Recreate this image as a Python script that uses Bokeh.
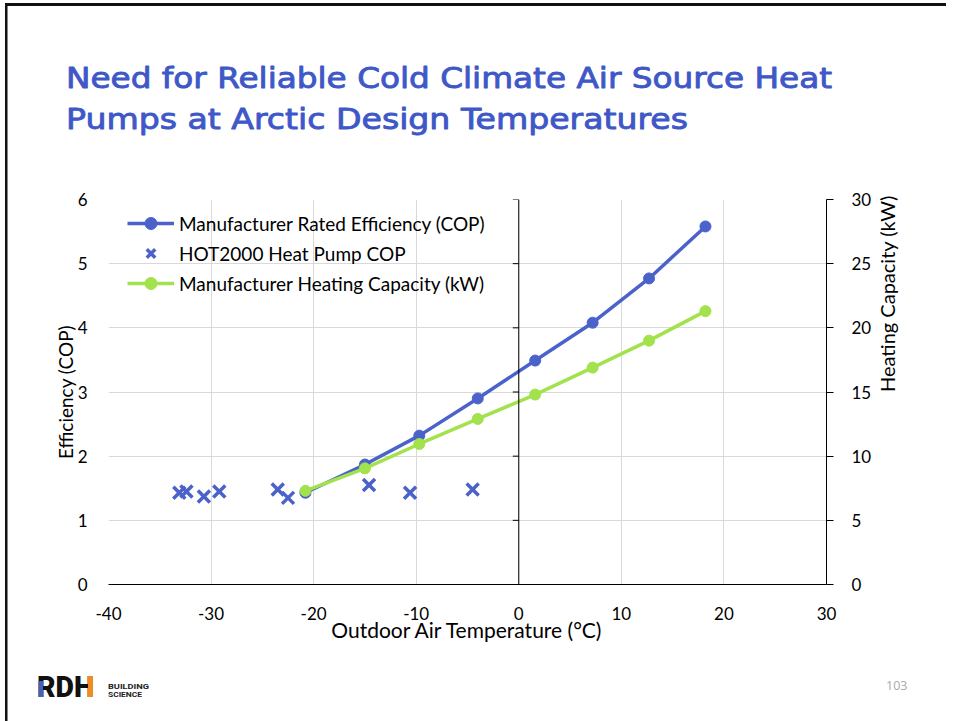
import math
from bokeh.plotting import figure
from bokeh.models import (Range1d, LinearAxis, Span, Legend, LegendItem, FixedTicker,
                          Div, PrintfTickFormatter)
from bokeh.layouts import column, row
from bokeh.embed import file_html
from bokeh.resources import INLINE

# ---- data ----
temp_rated = [-20.8, -15.0, -9.7, -4.0, 1.6, 7.2, 12.7, 18.2]
cop_rated = [1.43, 1.87, 2.32, 2.90, 3.49, 4.08, 4.77, 5.58]
cap_kw = [7.3, 9.05, 10.95, 12.9, 14.8, 16.9, 19.0, 21.3]
hot2000_temp = [-33.1, -32.4, -30.7, -29.2, -23.5, -22.5, -14.6, -10.6, -4.5]
hot2000_cop = [1.43, 1.45, 1.37, 1.45, 1.48, 1.35, 1.55, 1.43, 1.48]

x_ticks = [-40, -30, -20, -10, 0, 10, 20, 30]
cop_ticks = [0, 1, 2, 3, 4, 5, 6]
cap_ticks = [0, 5, 10, 15, 20, 25, 30]

title_lines = ["Need for Reliable Cold Climate Air Source Heat",
               "Pumps at Arctic Design Temperatures"]
series_names = ["Manufacturer Rated Efficiency (COP)",
                "HOT2000 Heat Pump COP",
                "Manufacturer Heating Capacity (kW)"]
page_number = "103"

BLUE = "#4A62CA"
GREEN = "#A2E24C"
TITLE_BLUE = "#3F58C8"
FONT = "Lato"
W = 946
EDGE = 8          # strip holding the slide's left border line


def svg_text(x, y, s, family, size, weight="normal", fill="#000", extra="", stroke=0):
    style = (f"font-family:'{family}';font-size:{size}px;font-weight:{weight};"
             f"fill:{fill}")
    if stroke:
        style += f";stroke:{fill};stroke-width:{stroke}px;stroke-linejoin:round"
    return f'<text x="{x}" y="{y}" style="{style}" {extra}>{s}</text>'


# ---------------- header (title) ----------------
H_TOP = 150
header_svg = (
    f'<svg xmlns="http://www.w3.org/2000/svg" width="{W}" height="{H_TOP}" style="display:block">'
    f'<rect x="5" y="3" width="{W - 5}" height="3" fill="#111111"/>'
    f'<rect x="5" y="3" width="2.5" height="{H_TOP - 3}" fill="#111111"/>'
    + svg_text(66, 88, title_lines[0], "DejaVu Sans", 29, "normal", TITLE_BLUE,
               'textLength="766" lengthAdjust="spacingAndGlyphs"', stroke=0.9)
    + svg_text(66, 129, title_lines[1], "DejaVu Sans", 29, "normal", TITLE_BLUE,
               'textLength="622" lengthAdjust="spacingAndGlyphs"', stroke=0.9)
    + '</svg>')
top = Div(text=header_svg, width=W, height=H_TOP, styles={"margin": "0", "padding": "0"})

# ---------------- main chart ----------------
H_MAIN = 510   # page y 150 .. 660
PW = W - EDGE
p = figure(width=PW, height=H_MAIN, output_backend="svg", toolbar_location=None,
           x_range=Range1d(-40, 30), y_range=Range1d(0, 6),
           min_border_left=108 - EDGE, min_border_right=W - 826,
           min_border_top=199 - H_TOP, min_border_bottom=H_TOP + H_MAIN - 584)
p.outline_line_color = None
p.extra_y_ranges = {"cap": Range1d(0, 30)}

p.xaxis.ticker = FixedTicker(ticks=x_ticks)
p.xaxis.formatter = PrintfTickFormatter(format="%d")
p.xaxis.axis_line_color = "black"
p.xaxis.major_tick_line_color = None
p.xaxis.major_tick_out = 0
p.xaxis.major_tick_in = 0
p.xaxis.minor_tick_line_color = None
p.xaxis.major_label_text_font = FONT
p.xaxis.major_label_text_font_size = "17px"
p.xaxis.major_label_text_color = "black"
p.xaxis.major_label_standoff = 22
p.xaxis.axis_label = "Outdoor Air Temperature (°C)"
p.xaxis.axis_label_text_font = FONT
p.xaxis.axis_label_text_font_size = "21px"
p.xaxis.axis_label_text_font_style = "normal"
p.xaxis.axis_label_text_color = "black"
p.xaxis.axis_label_standoff = -6

p.yaxis.ticker = FixedTicker(ticks=cop_ticks)
p.yaxis.axis_line_color = None
p.yaxis.major_tick_line_color = None
p.yaxis.major_tick_out = 0
p.yaxis.major_tick_in = 0
p.yaxis.minor_tick_line_color = None
p.yaxis.major_label_text_font = FONT
p.yaxis.major_label_text_font_size = "17px"
p.yaxis.major_label_text_color = "black"
p.yaxis.major_label_standoff = 21
p.yaxis.axis_label = "Efficiency (COP)"
p.yaxis.axis_label_text_font = FONT
p.yaxis.axis_label_text_font_size = "19px"
p.yaxis.axis_label_text_font_style = "normal"
p.yaxis.axis_label_text_color = "black"
p.yaxis.axis_label_standoff = -2

ax_r = LinearAxis(y_range_name="cap", ticker=FixedTicker(ticks=cap_ticks))
ax_r.axis_line_color = "black"
ax_r.major_tick_line_color = "black"
ax_r.major_tick_out = 7
ax_r.major_tick_in = 0
ax_r.minor_tick_line_color = None
ax_r.major_label_text_font = FONT
ax_r.major_label_text_font_size = "17px"
ax_r.major_label_text_color = "black"
ax_r.major_label_standoff = 18
ax_r.axis_label = "Heating Capacity (kW)"
ax_r.axis_label_orientation = math.pi / 2
ax_r.axis_label_text_font = FONT
ax_r.axis_label_text_font_size = "20px"
ax_r.axis_label_text_font_style = "normal"
ax_r.axis_label_text_color = "black"
ax_r.axis_label_standoff = 13
p.add_layout(ax_r, "right")

p.xgrid.ticker = FixedTicker(ticks=x_ticks)
p.ygrid.ticker = FixedTicker(ticks=cop_ticks)
for g in (p.xgrid, p.ygrid):
    g.grid_line_color = "#D9D9D9"
    g.grid_line_width = 1

# vertical axis crossing at 0 with outside ticks
p.add_layout(Span(location=0, dimension="height", line_color="black", line_width=1))
p.ray(x=[0] * len(cop_ticks), y=cop_ticks, length=6, length_units="screen",
      angle=math.pi, line_color="black", line_width=1)

l1 = p.line(temp_rated, cop_rated, line_color=BLUE, line_width=3.5)
s1 = p.scatter(temp_rated, cop_rated, marker="circle", size=11,
               fill_color=BLUE, line_color=BLUE)
s2 = p.scatter(hot2000_temp, hot2000_cop, marker="x", size=17,
               line_color=BLUE, line_width=3.5)
l3 = p.line(temp_rated, cap_kw, y_range_name="cap", line_color=GREEN, line_width=3.5)
s3 = p.scatter(temp_rated, cap_kw, y_range_name="cap", marker="circle", size=11,
               fill_color=GREEN, line_color=GREEN)

legend = Legend(items=[LegendItem(label=series_names[0], renderers=[l1, s1]),
                       LegendItem(label=series_names[1], renderers=[s2]),
                       LegendItem(label=series_names[2], renderers=[l3, s3])],
                location=(19, 286), padding=0, margin=0, spacing=0,
                glyph_width=47, glyph_height=30, label_height=30,
                label_standoff=5, label_text_font=FONT,
                label_text_font_size="19px", label_text_color="black",
                border_line_color=None, background_fill_alpha=0)
p.add_layout(legend, "center")

edge_svg = (f'<svg xmlns="http://www.w3.org/2000/svg" width="{EDGE}" height="{H_MAIN}" '
            f'style="display:block"><rect x="5" y="0" width="2.5" height="{H_MAIN}" '
            f'fill="#111111"/></svg>')
edge = Div(text=edge_svg, width=EDGE, height=H_MAIN, styles={"margin": "0", "padding": "0"})
middle = row(edge, p, spacing=0)

# ---------------- footer (logo + page number) ----------------
Y0 = H_TOP + H_MAIN
H_BOT = 721 - Y0
footer_svg = (
    f'<svg xmlns="http://www.w3.org/2000/svg" width="{W}" height="{H_BOT}" style="display:block">'
    f'<rect x="5" y="0" width="2.5" height="{H_BOT}" fill="#111111"/>'
    + svg_text(37, 697 - Y0, "RDH", "Roboto", 30, "900", "#111111",
               'textLength="57" lengthAdjust="spacingAndGlyphs"')
    + f'<rect x="38.5" y="{681 - Y0}" width="4.5" height="16" fill="#4B5FB8"/>'
    + f'<rect x="88" y="{676 - Y0}" width="5" height="21" fill="#F08A24"/>'
    + svg_text(108, 688.5 - Y0, "BUILDING", "Roboto", 7, "bold", "#222222",
               'textLength="41" lengthAdjust="spacingAndGlyphs"')
    + svg_text(108, 697 - Y0, "SCIENCE", "Roboto", 7, "bold", "#222222",
               'textLength="34" lengthAdjust="spacingAndGlyphs"')
    + svg_text(886, 690 - Y0, page_number, "Open Sans", 12.5, "normal", "#AAAAAA")
    + '</svg>')
bot = Div(text=footer_svg, width=W, height=H_BOT, styles={"margin": "0", "padding": "0"})

layout = column(top, middle, bot, spacing=0)
open("out.html", "w").write(file_html(layout, INLINE))
